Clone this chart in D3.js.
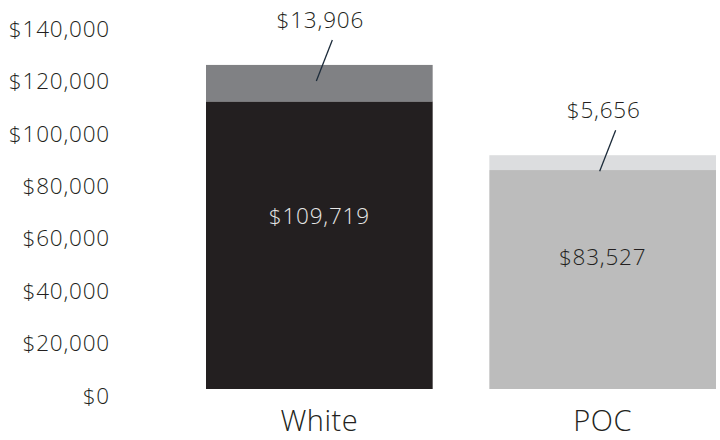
<!DOCTYPE html>
<html>
<head>
<meta charset="utf-8">
<script src="https://cdn.jsdelivr.net/npm/d3@7"></script>
<style>
  html, body { margin: 0; padding: 0; background: #ffffff; }
  svg { display: block; }
  text { font-family: "Open Sans", "DejaVu Sans", sans-serif; font-weight: 350; }
</style>
</head>
<body>
<svg id="chart" width="720" height="440"></svg>
<script>
// Salary by group: base amount plus additional amount stacked on top
const groups = ["White", "POC"];
const baseValues = [109719, 83527];
const extraValues = [13906, 5656];
const tickValues = [0, 20000, 40000, 60000, 80000, 100000, 120000, 140000];

const baseColors = ["#231f20", "#bcbcbc"];
const extraColors = ["#808184", "#dcdddf"];
const baseLabelColors = ["#e6e6e6", "#231f20"];

const svg = d3.select("#chart");
const money = v => "$" + d3.format(",")(v);

const x = d3.scaleBand().domain(groups).range([206, 716]).paddingInner(0.2).paddingOuter(0);
const y = d3.scaleLinear().domain([0, 140000]).range([389, 22]);

// y axis: labels only
const yAxis = svg.append("g")
  .attr("transform", "translate(110,0)")
  .call(d3.axisLeft(y).tickValues(tickValues).tickSize(0).tickPadding(0).tickFormat(money));
yAxis.select(".domain").remove();
yAxis.selectAll("text")
  .attr("dy", "0.32em")
  .attr("transform", "translate(0,7)")
  .style("font-family", "'Open Sans', sans-serif")
  .style("font-weight", 350)
  .style("font-size", "22.5px")
  .style("letter-spacing", "0.8px")
  .attr("fill", "#231f20");

const rows = groups.map((g, i) => ({
  group: g, base: baseValues[i], extra: extraValues[i], i
}));

// base segment
svg.selectAll("rect.base").data(rows).join("rect")
  .attr("class", "base")
  .attr("x", d => x(d.group))
  .attr("width", x.bandwidth())
  .attr("y", d => y(d.base))
  .attr("height", d => y(0) - y(d.base))
  .attr("fill", d => baseColors[d.i]);

// additional segment
svg.selectAll("rect.extra").data(rows).join("rect")
  .attr("class", "extra")
  .attr("x", d => x(d.group))
  .attr("width", x.bandwidth())
  .attr("y", d => y(d.base + d.extra))
  .attr("height", d => y(d.base) - y(d.base + d.extra))
  .attr("fill", d => extraColors[d.i]);

// base value labels inside bars
svg.selectAll("text.baseLabel").data(rows).join("text")
  .attr("class", "baseLabel")
  .attr("x", d => x(d.group) + x.bandwidth() / 2)
  .attr("y", d => y(d.base * 0.6))
  .attr("dy", "0.35em")
  .attr("text-anchor", "middle")
  .style("font-size", "22.5px")
  .style("letter-spacing", "0.8px")
  .attr("fill", d => baseLabelColors[d.i])
  .text(d => money(d.base));

// leader lines for additional amounts
svg.selectAll("line.leader").data(rows).join("line")
  .attr("class", "leader")
  .attr("x1", d => x(d.group) + x.bandwidth() / 2 + 13)
  .attr("y1", d => y(d.base + d.extra) - 25)
  .attr("x2", d => x(d.group) + x.bandwidth() / 2 - 3)
  .attr("y2", d => y(d.base + d.extra) + 16)
  .attr("stroke", "#1c2b3a")
  .attr("stroke-width", 1.3);

// additional amount labels above bars
svg.selectAll("text.extraLabel").data(rows).join("text")
  .attr("class", "extraLabel")
  .attr("x", d => x(d.group) + x.bandwidth() / 2 + 1)
  .attr("y", d => y(d.base + d.extra) - 45)
  .attr("dy", "0.35em")
  .attr("text-anchor", "middle")
  .style("font-size", "22.5px")
  .style("letter-spacing", "0.8px")
  .attr("fill", "#231f20")
  .text(d => money(d.extra));

// category labels
svg.selectAll("text.cat").data(rows).join("text")
  .attr("class", "cat")
  .attr("x", d => x(d.group) + x.bandwidth() / 2)
  .attr("y", 431)
  .attr("text-anchor", "middle")
  .style("font-size", "29px")
  .style("letter-spacing", "0.5px")
  .attr("fill", "#231f20")
  .text(d => d.group);
</script>
</body>
</html>
